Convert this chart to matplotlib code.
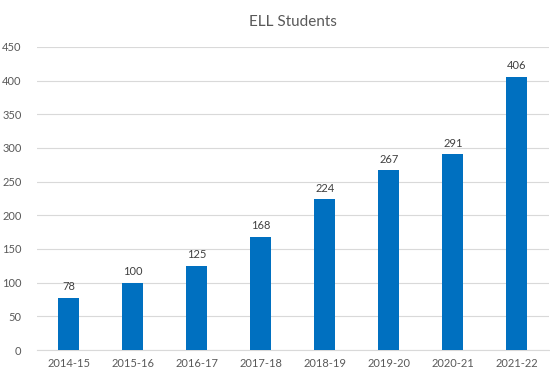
import matplotlib
matplotlib.use('Agg')
import matplotlib.pyplot as plt
import numpy as np

plt.rcParams['font.family'] = ['Lato', 'DejaVu Sans']

years = ['2014-15', '2015-16', '2016-17', '2017-18', '2018-19', '2019-20', '2020-21', '2021-22']
students = [78, 100, 125, 168, 224, 267, 291, 406]

text_color = '#595959'
bar_color = '#0070C0'

fig = plt.figure(figsize=(5.5, 3.72), dpi=100)
ax = fig.add_axes([0.067, 0.059, 0.931, 0.815])

x = np.arange(len(years))
bars = ax.bar(x, students, width=0.33, color=bar_color, zorder=3)

for xi, v in zip(x, students):
    ax.text(xi, v + 8, str(v), ha='center', va='bottom', fontsize=8, color='#404040')

ax.set_xlim(-0.5, len(years) - 0.5)
ax.set_ylim(0, 450)
ax.set_yticks(np.arange(0, 451, 50))
ax.set_xticks(x)
ax.set_xticklabels(years)
ax.tick_params(axis='both', length=0, labelsize=8, colors=text_color)
ax.tick_params(axis='y', pad=11)
ax.tick_params(axis='x', pad=6)
ax.yaxis.grid(True, color='#d9d9d9', linewidth=0.8, zorder=0)
for s in ['top', 'right', 'left']:
    ax.spines[s].set_visible(False)
ax.spines['bottom'].set_color('#d9d9d9')
ax.spines['bottom'].set_linewidth(0.8)

ax.set_title('ELL Students', fontsize=11, color=text_color, pad=15)

fig.savefig('out.png', dpi=100, facecolor='white')
